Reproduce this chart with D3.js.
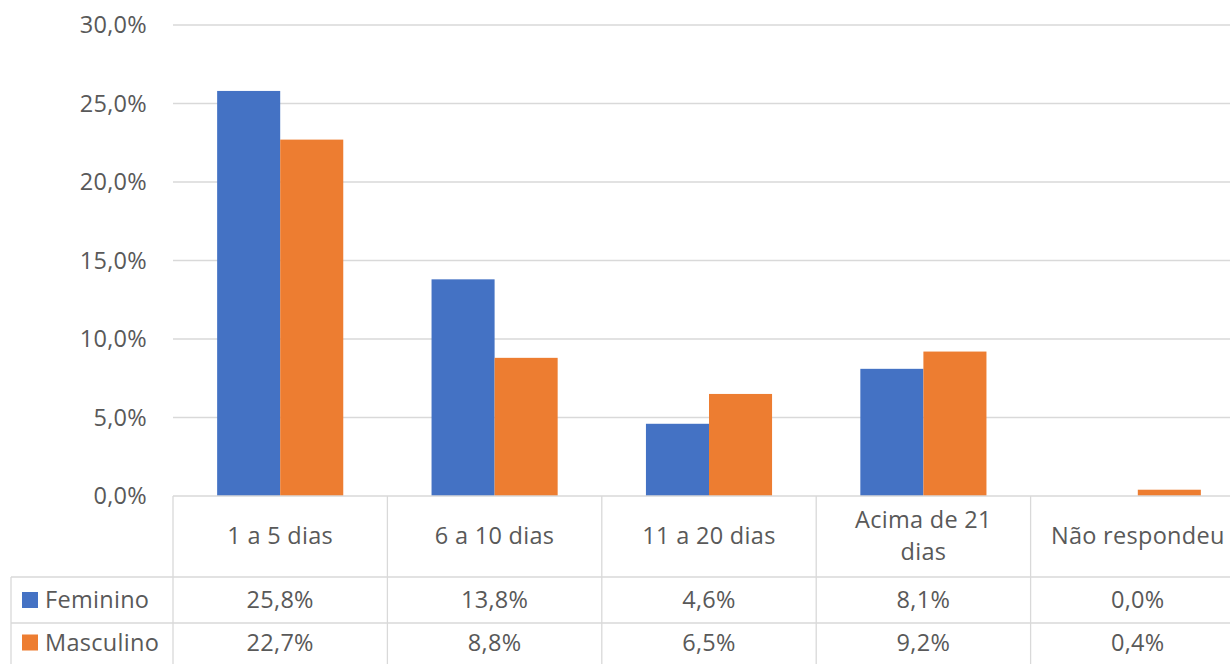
<!DOCTYPE html>
<html><head><meta charset="utf-8">
<script src="https://cdn.jsdelivr.net/npm/d3@7"></script>
<style>body{margin:0;background:#fff}svg{display:block}</style>
</head><body>
<svg id="c" width="1230" height="664"></svg>
<script>
const categories = ["1 a 5 dias", "6 a 10 dias", "11 a 20 dias", "Acima de 21 dias", "Não respondeu"];
const categoryLines = [["1 a 5 dias"], ["6 a 10 dias"], ["11 a 20 dias"], ["Acima de 21", "dias"], ["Não respondeu"]];
const seriesNames = ["Feminino", "Masculino"];
const feminino = [25.8, 13.8, 4.6, 8.1, 0.0];
const masculino = [22.7, 8.8, 6.5, 9.2, 0.4];
const yTicks = [0, 5, 10, 15, 20, 25, 30];
const colors = ["#4472C4", "#ED7D31"];

const svg = d3.select("#c");
const font = "'Open Sans', 'Noto Sans', sans-serif";
const fs = 23.5;
const ls = "0.3px";
const textColor = "#595959";
const gridColor = "#d9d9d9";
const x0 = 173, x1 = 1245, yTop = 25, yBase = 496;
const row1 = 577, row2 = 623, bottom = 670, tableLeft = 11;

const x = d3.scaleBand().domain(categories).range([x0, x1]);
const xs = d3.scaleBand().domain(seriesNames).range([0, x.bandwidth()]).paddingInner(0).paddingOuter(0.7);
const y = d3.scaleLinear().domain([0, 30]).range([yBase, yTop]);
const fmt = v => v.toFixed(1).replace(".", ",") + "%";

// gridlines
svg.append("g").selectAll("line").data(yTicks.filter(t => t > 0)).join("line")
  .attr("x1", x0).attr("x2", 1230).attr("y1", d => y(d)).attr("y2", d => y(d))
  .attr("stroke", gridColor).attr("stroke-width", 1.3);

// y tick labels
svg.append("g").selectAll("text").data(yTicks).join("text")
  .attr("x", 147).attr("y", d => y(d)).attr("dy", "0.35em").attr("text-anchor", "end")
  .attr("font-family", font).attr("font-size", fs).attr("letter-spacing", ls).attr("fill", textColor)
  .text(d => fmt(d));

// bars
const data = [feminino, masculino];
seriesNames.forEach((s, si) => {
  svg.append("g").selectAll("rect").data(categories).join("rect")
    .attr("x", c => x(c) + xs(s)).attr("width", xs.bandwidth())
    .attr("y", (c, i) => y(data[si][i])).attr("height", (c, i) => yBase - y(data[si][i]))
    .attr("fill", colors[si]);
});

// table lines
const g = svg.append("g").attr("stroke", gridColor).attr("stroke-width", 1.3);
g.append("line").attr("x1", x0).attr("x2", 1230).attr("y1", yBase).attr("y2", yBase);
g.append("line").attr("x1", tableLeft).attr("x2", 1230).attr("y1", row1).attr("y2", row1);
g.append("line").attr("x1", tableLeft).attr("x2", 1230).attr("y1", row2).attr("y2", row2);
g.append("line").attr("x1", tableLeft).attr("x2", tableLeft).attr("y1", row1).attr("y2", bottom);
g.selectAll("line.v").data(categories).join("line").attr("class", "v")
  .attr("x1", c => x(c)).attr("x2", c => x(c)).attr("y1", yBase).attr("y2", bottom);

// header labels
categories.forEach((c, i) => {
  const lines = categoryLines[i];
  const cy = (yBase + row1) / 2 - 1;
  const lh = 32;
  lines.forEach((l, li) => {
    svg.append("text").attr("x", x(c) + x.bandwidth() / 2)
      .attr("y", cy + (li - (lines.length - 1) / 2) * lh).attr("dy", "0.35em")
      .attr("text-anchor", "middle").attr("font-family", font).attr("font-size", fs).attr("letter-spacing", ls)
      .attr("fill", textColor).text(l);
  });
});

// data rows
const rowsY = [(row1 + row2) / 2, (row2 + 664) / 2 - 1];
seriesNames.forEach((s, si) => {
  svg.append("rect").attr("x", 22).attr("y", rowsY[si] - 8).attr("width", 16).attr("height", 16).attr("fill", colors[si]);
  svg.append("text").attr("x", 45).attr("y", rowsY[si]).attr("dy", "0.35em")
    .attr("font-family", font).attr("font-size", fs).attr("letter-spacing", ls).attr("fill", textColor).text(s);
  svg.append("g").selectAll("text").data(categories).join("text")
    .attr("x", c => x(c) + x.bandwidth() / 2).attr("y", rowsY[si]).attr("dy", "0.35em")
    .attr("text-anchor", "middle").attr("font-family", font).attr("font-size", fs).attr("letter-spacing", ls).attr("fill", textColor)
    .text((c, i) => fmt(data[si][i]));
});
</script>
</body></html>
